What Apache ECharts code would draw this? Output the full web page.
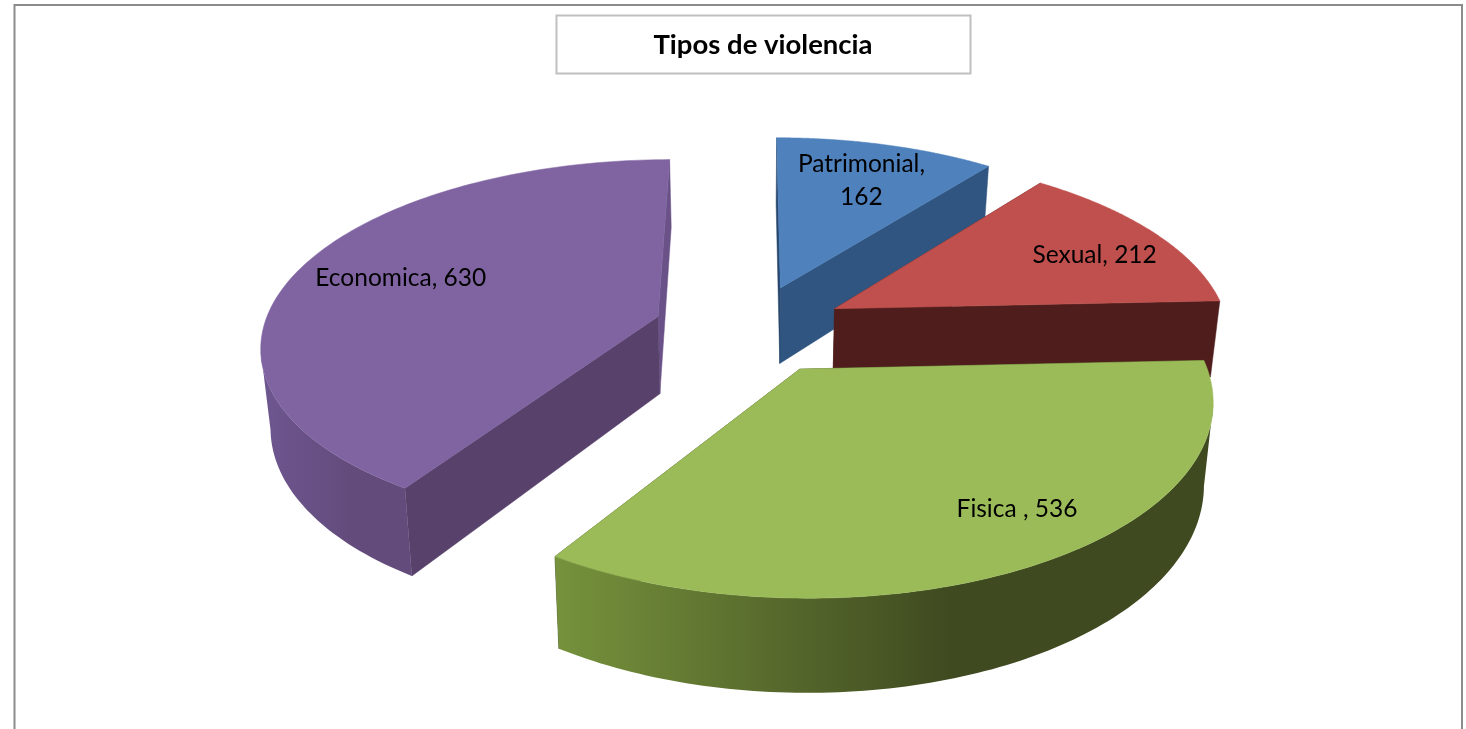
<!DOCTYPE html>
<html>
<head>
<meta charset="utf-8">
<title>Tipos de violencia</title>
<script src="https://cdn.jsdelivr.net/npm/echarts@6/dist/echarts.min.js"></script>
<style>
  html, body { margin: 0; padding: 0; background: #fff; }
  #chart { width: 1466px; height: 729px; }
</style>
</head>
<body>
<div id="chart"></div>
<script>
const categories = ['Patrimonial', 'Sexual', 'Fisica ', 'Economica'];
const values = [162, 212, 536, 630];

// colours per slice
const topColors = ['#4f81bd', '#c0504d', '#9bbb59', '#8064a2'];
const nearCutColors = ['#2f5580', '#4f1e1c', '#3f4a20', '#58426c'];
const farCutColors = ['#26466c', '#4f1e1c', '#3f4a20', '#6a5288'];
const wallLeft = ['#4f81bd', '#6e2b28', '#76923c', '#6e5690'];
const wallRight = ['#2f5580', '#4f1e1c', '#3f4a20', '#634c7c'];
// label place inside each slice: share of the radius, turn from the bisector in degrees
const labelRadius = [0.725, 0.775, 0.8, 0.72];
const labelTurn = [0.4, 3.5, -6, 1.3];
const drawOrder = [0, 1, 3, 2];

// perspective view of the tilted pie
const center = [750, 329];
const explode = 0.245;
const radiusX = 395;
const radiusY = 183;
const tilt = 0.145;
const depth = 78;
const bottomShrink = 0.98;

const total = values.reduce((a, b) => a + b, 0);

function sliceAngles(i) {
  let before = 0;
  for (let k = 0; k < i; k++) before += values[k];
  return [(before / total) * Math.PI * 2, ((before + values[i]) / total) * Math.PI * 2];
}

// disc coordinates of a point of slice i, moved out along its bisector
function discPoint(i, ang, r) {
  const [a0, a1] = sliceAngles(i);
  const mid = (a0 + a1) / 2;
  return [
    explode * Math.sin(mid) + r * Math.sin(ang),
    -explode * Math.cos(mid) - r * Math.cos(ang)
  ];
}

function project(p, h) {
  const s = 1 / (1 - tilt * p[1]);
  const shrink = h ? bottomShrink : 1;
  return [
    center[0] + radiusX * p[0] * s * shrink,
    center[1] + (radiusY * p[1] + h) * s
  ];
}

function rimAngles(from, to) {
  const list = [];
  const n = 120;
  for (let k = 0; k <= n; k++) list.push(from + ((to - from) * k) / n);
  return list;
}

function renderSlice(params, api) {
  const i = api.value(0);
  const [a0, a1] = sliceAngles(i);
  const apex = discPoint(i, 0, 0);
  const apexTop = project(apex, 0);
  const apexBottom = project(apex, depth);
  const children = [];

  const cutFace = (ang, fill) => {
    const p = discPoint(i, ang, 1);
    children.push({
      type: 'polygon',
      shape: { points: [apexTop, project(p, 0), project(p, depth), apexBottom] },
      style: { fill: fill, stroke: fill, lineWidth: 0.5 }
    });
  };

  // the far cut goes first so the near one covers it
  if (i === 0) {
    cutFace(a1, nearCutColors[i]);
    cutFace(a0, farCutColors[i]);
  } else if (i === 3) {
    cutFace(a1, farCutColors[i]);
    cutFace(a0, nearCutColors[i]);
  } else {
    cutFace(a1, nearCutColors[i]);
    cutFace(a0, nearCutColors[i]);
  }

  const angles = rimAngles(a0, a1);
  const rim = angles.map(a => discPoint(i, a, 1));
  const rimTop = rim.map(p => project(p, 0));

  // outer wall: only the part of the rim that faces the viewer (going clockwise, x falls)
  const falls = k => k >= 0 && k < rim.length - 1 && rimTop[k + 1][0] < rimTop[k][0];
  const facing = rim.filter((p, k) => falls(k) || falls(k - 1));
  if (facing.length > 1) {
    const wallTop = facing.map(p => project(p, 0));
    const wallBottom = facing.map(p => project(p, depth));
    children.push({
      type: 'polygon',
      shape: { points: wallTop.concat(wallBottom.reverse()) },
      style: {
        fill: new echarts.graphic.LinearGradient(0, 0, 1, 0, [
          { offset: 0, color: wallLeft[i] },
          { offset: 0.6, color: wallRight[i] },
          { offset: 1, color: wallRight[i] }
        ])
      }
    });
  }

  // top face
  children.push({
    type: 'polygon',
    shape: { points: [apexTop].concat(rimTop) },
    style: { fill: topColors[i], stroke: topColors[i], lineWidth: 0.5 }
  });

  // label
  const mid = (a0 + a1) / 2 + (labelTurn[i] * Math.PI) / 180;
  const lp = project(discPoint(i, mid, labelRadius[i]), 0);
  const text = i === 0
    ? categories[i] + ',\n' + values[i]
    : categories[i] + ', ' + values[i];
  children.push({
    type: 'text',
    z2: 10,
    style: {
      x: lp[0],
      y: lp[1],
      text: text,
      fill: '#000',
      font: '24.5px Lato',
      lineHeight: 33,
      align: 'center',
      verticalAlign: 'middle'
    }
  });
  return { type: 'group', children: children };
}

const chart = echarts.init(document.getElementById('chart'), null, { renderer: 'canvas' });
chart.setOption({
  animation: false,
  backgroundColor: '#fff',
  graphic: [
    {
      type: 'rect',
      shape: { x: 14.5, y: 5, width: 1447.5, height: 740 },
      style: { fill: 'none', stroke: '#8c8c8c', lineWidth: 2 }
    },
    {
      type: 'rect',
      shape: { x: 556.5, y: 15.5, width: 414, height: 58 },
      style: { fill: '#fff', stroke: '#c0c0c0', lineWidth: 2 }
    }
  ],
  title: {
    text: 'Tipos de violencia',
    left: 758,
    top: 40,
    textAlign: 'center',
    textVerticalAlign: 'middle',
    textStyle: { fontFamily: 'Lato', fontWeight: 'bold', fontSize: 27.5, color: '#000' }
  },
  series: [
    {
      type: 'custom',
      coordinateSystem: 'none',
      renderItem: renderSlice,
      data: drawOrder.map(i => [i, values[i]])
    }
  ]
});
</script>
</body>
</html>
